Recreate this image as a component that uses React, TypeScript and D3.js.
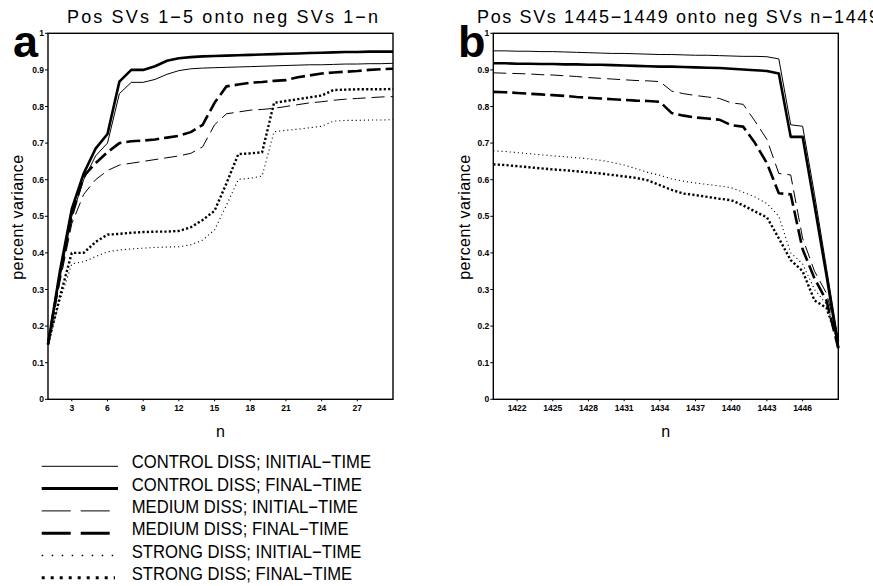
import React from "react";
import * as d3 from "d3";

const nA = [1,2,3,4,5,6,7,8,9,10,11,12,13,14,15,16,17,18,19,20,21,22,23,24,25,26,27,28,29,30];
const nB = [1420,1421,1422,1423,1424,1425,1426,1427,1428,1429,1430,1431,1432,1433,1434,1435,1436,1437,1438,1439,1440,1441,1442,1443,1444,1445,1446,1447,1448,1449];

const controlInitA = [.15,.33,.5,.6,.665,.70,.835,.866,.866,.874,.888,.898,.903,.905,.906,.907,.908,.909,.910,.911,.912,.913,.914,.914,.915,.916,.916,.917,.917,.918];
const controlFinalA = [.15,.35,.52,.617,.685,.725,.868,.90,.90,.91,.925,.932,.935,.937,.938,.939,.94,.941,.942,.943,.944,.945,.946,.947,.948,.949,.949,.95,.95,.95];
const mediumInitA = [.15,.32,.48,.56,.60,.625,.64,.645,.65,.655,.66,.665,.672,.69,.75,.78,.785,.79,.792,.795,.80,.805,.81,.813,.817,.82,.822,.824,.826,.827];
const mediumFinalA = [.15,.34,.5,.61,.645,.675,.70,.705,.707,.71,.715,.72,.73,.75,.81,.855,.86,.865,.867,.87,.872,.88,.885,.89,.893,.895,.897,.90,.902,.903];
const strongInitA = [.15,.27,.37,.376,.39,.403,.408,.411,.413,.415,.416,.417,.422,.435,.463,.53,.601,.604,.61,.731,.735,.738,.742,.746,.76,.762,.762,.763,.763,.764];
const strongFinalA = [.15,.28,.40,.40,.43,.45,.452,.455,.457,.458,.458,.46,.47,.49,.515,.59,.67,.672,.675,.81,.815,.82,.825,.83,.845,.846,.847,.847,.847,.848];

const controlInitB = [.952,.952,.951,.951,.95,.95,.949,.948,.947,.946,.945,.945,.944,.943,.942,.942,.941,.94,.94,.939,.938,.937,.937,.936,.93,.75,.746,.56,.36,.16];
const controlFinalB = [.918,.918,.917,.917,.916,.916,.915,.915,.914,.914,.913,.912,.911,.91,.909,.909,.908,.907,.906,.905,.903,.901,.899,.897,.89,.717,.717,.53,.34,.14];
const mediumInitB = [.892,.891,.89,.889,.887,.886,.884,.882,.879,.877,.875,.873,.871,.87,.868,.842,.835,.83,.826,.822,.81,.806,.76,.71,.617,.613,.44,.35,.29,.17];
const mediumFinalB = [.84,.839,.837,.835,.833,.831,.829,.826,.824,.822,.82,.818,.816,.815,.813,.782,.775,.77,.767,.764,.749,.745,.70,.645,.563,.56,.41,.33,.27,.14];
const strongInitB = [.679,.677,.674,.671,.668,.665,.663,.66,.657,.653,.647,.64,.63,.62,.612,.602,.596,.591,.587,.583,.578,.566,.553,.535,.50,.40,.37,.30,.26,.17];
const strongFinalB = [.642,.64,.637,.634,.631,.628,.626,.623,.62,.617,.613,.609,.605,.598,.585,.572,.562,.558,.553,.548,.544,.53,.513,.497,.44,.38,.35,.27,.25,.16];

const xTicksA = [3,6,9,12,15,18,21,24,27];
const xTicksB = [1422,1425,1428,1431,1434,1437,1440,1443,1446];
const yTicks = [0,0.1,0.2,0.3,0.4,0.5,0.6,0.7,0.8,0.9,1];
const yTickLabels = ["0","0.1","0.2","0.3","0.4","0.5","0.6","0.7","0.8","0.9","1"];

const seriesNames = [
  "CONTROL DISS; INITIAL\u2212TIME",
  "CONTROL DISS; FINAL\u2212TIME",
  "MEDIUM DISS; INITIAL\u2212TIME",
  "MEDIUM DISS; FINAL\u2212TIME",
  "STRONG DISS; INITIAL\u2212TIME",
  "STRONG DISS; FINAL\u2212TIME",
];

const styles = [
  { w: 1, dash: "none", legDash: "none", legW: 1, legEnd: 118 },
  { w: 2.6, dash: "none", legDash: "none", legW: 3, legEnd: 118 },
  { w: 1, dash: "13 6", legDash: "29 10", legW: 1, legEnd: 110 },
  { w: 2.6, dash: "14 5", legDash: "29 10", legW: 3, legEnd: 110 },
  { w: 1.1, dash: "1.1 3", legDash: "1.5 8.5", legW: 1.5, legEnd: 115 },
  { w: 2.4, dash: "2.2 2.2", legDash: "3 6", legW: 3, legEnd: 115 },
];

const FONT = "'Liberation Sans', Arial, Helvetica, sans-serif";
const TOP = 33.3;
const BOTTOM = 399.3;

function Panel({ x0, x1, xs, series, xTicks, letter, letterX, title, titleX, titleLen, yLabelX }) {
  const x = d3.scaleLinear().domain([xs[0], xs[xs.length - 1]]).range([x0, x1]);
  const y = d3.scaleLinear().domain([0, 1]).range([BOTTOM, TOP]);
  const line = d3.line<number>().x((_, i) => x(xs[i])).y((d) => y(d));
  return (
    <g>
      <text x={titleX} y={23} fontFamily={FONT} fontSize={18} textLength={titleLen} lengthAdjust="spacing">{title}</text>
      <text x={letterX} y={57} fontFamily={FONT} fontSize={45} fontWeight="bold">{letter}</text>
      {series.map((s, i) => (
        <path key={i} d={line(s) || ""} fill="none" stroke="#000" strokeWidth={styles[i].w}
          strokeDasharray={styles[i].dash} strokeLinecap="butt" strokeLinejoin="round" />
      ))}
      <rect x={x0} y={TOP} width={x1 - x0} height={BOTTOM - TOP} fill="none" stroke="#000" strokeWidth={1.4} />
      {yTicks.map((t, i) => (
        <g key={i}>
          <line x1={x0 - 3} x2={x0} y1={y(t)} y2={y(t)} stroke="#000" strokeWidth={1} />
          <text x={x0 - 4} y={y(t) + 3} textAnchor="end" fontFamily={FONT} fontSize={8.5} fontWeight="bold">{yTickLabels[i]}</text>
        </g>
      ))}
      {xTicks.map((t, i) => (
        <g key={i}>
          <line x1={x(t)} x2={x(t)} y1={BOTTOM} y2={BOTTOM + 2} stroke="#000" strokeWidth={1} />
          <text x={x(t)} y={BOTTOM + 12} textAnchor="middle" fontFamily={FONT} fontSize={8.5} fontWeight="bold">{t}</text>
        </g>
      ))}
      <text x={(x0 + x1) / 2} y={437} textAnchor="middle" fontFamily={FONT} fontSize={16}>n</text>
      <text transform={`translate(${yLabelX},${(TOP + BOTTOM) / 2 + 1}) rotate(-90)`} textAnchor="middle"
        fontFamily={FONT} fontSize={16} textLength={125} lengthAdjust="spacing">percent variance</text>
    </g>
  );
}

export default function App() {
  const seriesA = [controlInitA, controlFinalA, mediumInitA, mediumFinalA, strongInitA, strongFinalA];
  const seriesB = [controlInitB, controlFinalB, mediumInitB, mediumFinalB, strongInitB, strongFinalB];
  const legTop = 468.3;
  const legStep = 22.3;
  return (
    <svg width={873} height={586} style={{ position: "absolute", left: 0, top: 0, background: "#fff" }}>
      <rect x={0} y={0} width={873} height={586} fill="#fff" />
      <Panel x0={48} x1={393} xs={nA} series={seriesA} xTicks={xTicksA} letter="a" letterX={13}
        title={"Pos SVs 1\u22125 onto neg SVs 1\u2212n"} titleX={67} titleLen={311} yLabelX={23} />
      <Panel x0={493.3} x1={838.3} xs={nB} series={seriesB} xTicks={xTicksB} letter="b" letterX={458}
        title={"Pos SVs 1445\u22121449 onto neg SVs n\u22121449"} titleX={477} titleLen={402} yLabelX={470} />
      {seriesNames.map((name, i) => {
        const by = legTop + i * legStep;
        return (
          <g key={i}>
            <line x1={41.7} x2={styles[i].legEnd} y1={by - 2} y2={by - 2} stroke="#000" strokeWidth={styles[i].legW}
              strokeDasharray={styles[i].legDash} />
            <text transform={`translate(131.7,${by}) scale(0.925,1)`} fontFamily={FONT} fontSize={18}>{name}</text>
          </g>
        );
      })}
    </svg>
  );
}
